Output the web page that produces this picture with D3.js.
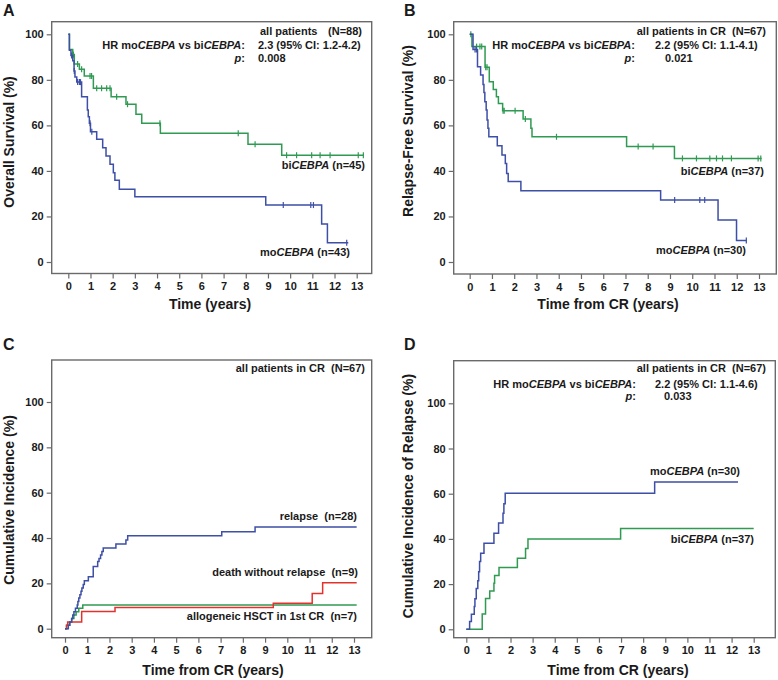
<!DOCTYPE html>
<html><head><meta charset="utf-8">
<script src="https://cdn.jsdelivr.net/npm/d3@7"></script>
<style>
body{margin:0;background:#fff}
svg{display:block}
text{font-family:"Liberation Sans",Arial,sans-serif;font-weight:bold;fill:#1a1a1a;white-space:pre}
</style></head><body>
<svg id="chart" width="778" height="680"></svg>
<script>
// ---------------- data ----------------
const xTickValues = [0,1,2,3,4,5,6,7,8,9,10,11,12,13];
const yTickValues = [0,20,40,60,80,100];

// Panel A – overall survival (Kaplan-Meier)
const osBiTime   = [0,0.05,0.2,0.27,0.5,0.72,1.13,1.93,2.6,3.05,3.31,4.15,8.1,9.62,13.33];
const osBiSurv   = [100,93.3,91.1,87.0,84.6,81.7,76.3,72.6,69.3,64.9,60.9,56.5,51.7,46.9,46.9];
const osBiCensor = [0.23,0.42,0.6,0.98,1.05,1.28,1.5,1.73,1.88,2.18,2.67,4.13,7.66,8.42,9.84,10.29,10.97,11.35,11.8,13.07,13.3];
const osMoTime   = [0,0.05,0.12,0.2,0.26,0.3,0.38,0.6,0.86,0.9,0.95,1.0,1.28,1.55,1.7,1.88,2.03,2.1,2.3,3.0,8.9,11.42,11.68,12.62];
const osMoSurv   = [100,93.0,90.7,88.4,83.9,81.2,79.0,72.6,66.8,63.8,60.9,57.2,53.9,50.2,46.6,42.9,39.2,35.9,31.9,28.7,25.0,16.7,8.5,8.5];
const osMoCensor = [0.15,0.27,0.42,0.5,0.55,0.98,1.06,9.69,10.93,11.05,12.55];

// Panel B – relapse-free survival
const rfsBiTime   = [0,0.1,0.69,0.88,1.06,1.2,1.29,1.48,2.4,2.75,2.8,7.05,9.2,13.12];
const rfsBiSurv   = [100,94.6,85.5,79.2,75.8,72.6,69.6,66.4,62.8,58.7,55.0,50.7,45.5,45.5];
const rfsBiCensor = [0.05,0.31,0.46,0.54,0.72,0.78,1.5,1.55,2.04,2.5,3.9,7.57,8.24,9.56,10.19,10.79,11.09,11.36,11.76,12.96,13.08];
const rfsMoTime   = [0,0.15,0.35,0.49,0.6,0.64,0.68,0.74,0.78,0.82,0.86,1.24,1.45,1.6,1.66,1.73,2.3,8.58,11.16,11.99,12.45];
const rfsMoSurv   = [100,93.3,85.8,82.1,78.0,74.4,70.4,66.8,62.4,58.7,55.0,51.1,47.0,43.3,38.9,35.3,31.3,27.2,18.4,9.4,9.4];
const rfsMoCensor = [0.24,0.3,9.21,10.34,10.56,12.43];

// Panel C – cumulative incidence, competing events
const ciRelapseTime = [0,0.15,0.22,0.3,0.35,0.4,0.47,0.55,0.58,0.62,0.67,0.72,0.76,0.82,0.87,1.05,1.27,1.47,1.53,1.6,1.66,1.72,2.29,2.74,2.82,7.05,8.55,13.12];
const ciRelapseVal  = [0,1.5,3.0,4.5,6.0,7.5,9.0,10.5,12.0,13.5,15.0,16.5,18.0,19.5,21.2,22.9,27.4,29.6,31.0,32.5,34.0,35.6,37.4,39.1,41.0,42.8,44.9,44.9];
const ciDeathTime   = [0,0.07,0.12,0.75,2.25,9.37,11.12,11.59,13.12];
const ciDeathVal    = [0,1.5,3.0,7.6,9.3,11.2,15.5,20.3,20.3];
const ciHsctTime    = [0,0.07,0.2,0.3,0.4,0.5,0.62,0.8,13.12];
const ciHsctVal     = [0,1.5,3.0,4.5,6.0,7.5,9.0,10.5,10.5];

// Panel D – cumulative incidence of relapse
const cirMoTime = [0,0.15,0.23,0.36,0.39,0.45,0.52,0.56,0.6,0.65,0.8,1.25,1.46,1.66,1.7,1.76,8.52,12.29];
const cirMoVal  = [0,3.4,6.7,10.1,13.5,18.0,21.5,25.5,30.0,33.7,38.1,42.5,47.0,51.4,55.6,60.2,65.2,65.2];
const cirBiTime = [0,0.72,0.87,1.06,1.25,1.28,1.48,2.31,2.68,2.79,6.98,13.0];
const cirBiVal  = [0,6.8,13.6,17.0,20.4,23.8,27.4,31.4,35.7,40.0,44.6,44.6];

// ---------------- drawing ----------------
const BLUE = "#3d4fa6", GREEN = "#2f9a52", RED = "#e2322e", AXIS = "#6a6a6a";
const svg = d3.select("#chart");

function rich(g, x, y, anchor, parts){
  const t = g.append("text").attr("x", x).attr("y", y).attr("text-anchor", anchor).style("font-size","11px");
  parts.forEach(p => {
    const s = t.append("tspan").text(p[0]);
    if (p[1]) s.style("font-style","italic");
  });
  return t;
}

function panel(cfg){
  const g = svg.append("g");
  const b = cfg.box;
  const x = d3.scaleLinear().domain([0,13]).range([cfg.x0, cfg.x13]);
  const y = d3.scaleLinear().domain([0,100]).range([cfg.y0, cfg.y100]);

  g.append("rect").attr("x",b.l).attr("y",b.t).attr("width",b.r-b.l).attr("height",b.b-b.t)
    .attr("fill","none").attr("stroke",AXIS).attr("stroke-width",1.4);

  const xa = g.append("g").attr("transform",`translate(0,${b.b})`)
    .call(d3.axisBottom(x).tickValues(xTickValues).tickSize(5).tickPadding(4).tickFormat(d3.format("d")));
  const ya = g.append("g").attr("transform",`translate(${b.l},0)`)
    .call(d3.axisLeft(y).tickValues(yTickValues).tickSize(5).tickPadding(3).tickFormat(d3.format("d")));
  [xa, ya].forEach(a => {
    a.select(".domain").remove();
    a.selectAll("line").attr("stroke",AXIS).attr("stroke-width",1.2);
    a.selectAll("text").style("font-size","11px").style("font-family",'"Liberation Sans",Arial,sans-serif')
      .style("font-weight","bold").attr("fill","#1a1a1a");
  });

  g.append("text").attr("x",cfg.xtX).attr("y",cfg.xtY).attr("text-anchor","middle")
    .style("font-size","14px").text(cfg.xTitle);
  g.append("text").attr("transform",`translate(${cfg.ytX},${cfg.ytY}) rotate(-90)`).attr("text-anchor","middle")
    .style("font-size","14px").text(cfg.yTitle);
  g.append("text").attr("x",cfg.lx).attr("y",cfg.ly).style("font-size","16px").text(cfg.letter);

  const line = d3.line().x(d => x(d[0])).y(d => y(d[1])).curve(d3.curveStepAfter);
  cfg.series.forEach(s => {
    const pts = s.time.map((t,i) => [t, s.val[i]]);
    g.append("path").datum(pts).attr("d", line).attr("fill","none")
      .attr("stroke", s.color).attr("stroke-width",1.5);
    if (s.censor){
      const idx = d3.bisector(d => d).right;
      g.selectAll(null).data(s.censor).join("line")
        .attr("x1", c => x(c)).attr("x2", c => x(c))
        .attr("y1", c => y(s.val[idx(s.time, c) - 1]) - 3)
        .attr("y2", c => y(s.val[idx(s.time, c) - 1]) + 3)
        .attr("stroke", s.color).attr("stroke-width",1.2);
    }
  });
  cfg.texts.forEach(t => rich(g, t[0], t[1], t[2], t[3]));
}

const HR = [["HR mo"],["CEBPA",1],[" vs bi"],["CEBPA",1],[":"]];

panel({letter:"A", lx:3, ly:16, box:{l:51.7,r:371.7,t:21.7,b:273.5},
  x0:68.3, x13:356.7, y0:262, y100:34.3,
  xTitle:"Time (years)", xtX:210, xtY:309,
  yTitle:"Overall Survival (%)", ytX:14, ytY:142,
  series:[
    {time:osBiTime, val:osBiSurv, censor:osBiCensor, color:GREEN},
    {time:osMoTime, val:osMoSurv, censor:osMoCensor, color:BLUE}],
  texts:[
    [260,35,"start",[["all patients"]]],[362,35,"end",[["(N=88)"]]],
    [245,48.5,"end",HR],[258,48.5,"start",[["2.3 (95% CI: 1.2-4.2)"]]],
    [245,62,"end",[["p",1],[":"]]],[258,62,"start",[["0.008"]]],
    [365,169,"end",[["bi"],["CEBPA",1],[" (n=45)"]]],
    [350,256,"end",[["mo"],["CEBPA",1],[" (n=43)"]]]
  ]});

panel({letter:"B", lx:404, ly:16, box:{l:453.7,r:776.3,t:21.7,b:274},
  x0:469.7, x13:759, y0:262, y100:34.3,
  xTitle:"Time from CR (years)", xtX:608, xtY:309,
  yTitle:"Relapse-Free Survival (%)", ytX:413, ytY:131,
  series:[
    {time:rfsBiTime, val:rfsBiSurv, censor:rfsBiCensor, color:GREEN},
    {time:rfsMoTime, val:rfsMoSurv, censor:rfsMoCensor, color:BLUE}],
  texts:[
    [766,35,"end",[["all patients in CR  (N=67)"]]],
    [635,48.5,"end",HR],[655,48.5,"start",[["2.2 (95% CI: 1.1-4.1)"]]],
    [635,62,"end",[["p",1],[":"]]],[665,62,"start",[["0.021"]]],
    [764,175,"end",[["bi"],["CEBPA",1],[" (n=37)"]]],
    [746,254,"end",[["mo"],["CEBPA",1],[" (n=30)"]]]
  ]});

panel({letter:"C", lx:3, ly:350, box:{l:51.7,r:371.7,t:360,b:637.7},
  x0:65, x13:354, y0:628.7, y100:402,
  xTitle:"Time from CR (years)", xtX:213, xtY:675,
  yTitle:"Cumulative Incidence (%)", ytX:14, ytY:500,
  series:[
    {time:ciHsctTime, val:ciHsctVal, color:GREEN},
    {time:ciDeathTime, val:ciDeathVal, color:RED},
    {time:ciRelapseTime, val:ciRelapseVal, color:BLUE}],
  texts:[
    [365,372,"end",[["all patients in CR  (N=67)"]]],
    [357,520,"end",[["relapse  (n=28)"]]],
    [358,576,"end",[["death without relapse  (n=9)"]]],
    [357,620,"end",[["allogeneic HSCT in 1st CR  (n=7)"]]]
  ]});

panel({letter:"D", lx:404, ly:350, box:{l:453.7,r:775.3,t:360.7,b:637.7},
  x0:466.3, x13:753.7, y0:629.3, y100:403.3,
  xTitle:"Time from CR (years)", xtX:618, xtY:675,
  yTitle:"Cumulative Incidence of Relapse (%)", ytX:413, ytY:496,
  series:[
    {time:cirBiTime, val:cirBiVal, color:GREEN},
    {time:cirMoTime, val:cirMoVal, color:BLUE}],
  texts:[
    [766,372,"end",[["all patients in CR  (N=67)"]]],
    [636,388,"end",HR],[655,388,"start",[["2.2 (95% CI: 1.1-4.6)"]]],
    [636,400,"end",[["p",1],[":"]]],[664,400,"start",[["0.033"]]],
    [740,475,"end",[["mo"],["CEBPA",1],[" (n=30)"]]],
    [754,543,"end",[["bi"],["CEBPA",1],[" (n=37)"]]]
  ]});
</script>
</body></html>
